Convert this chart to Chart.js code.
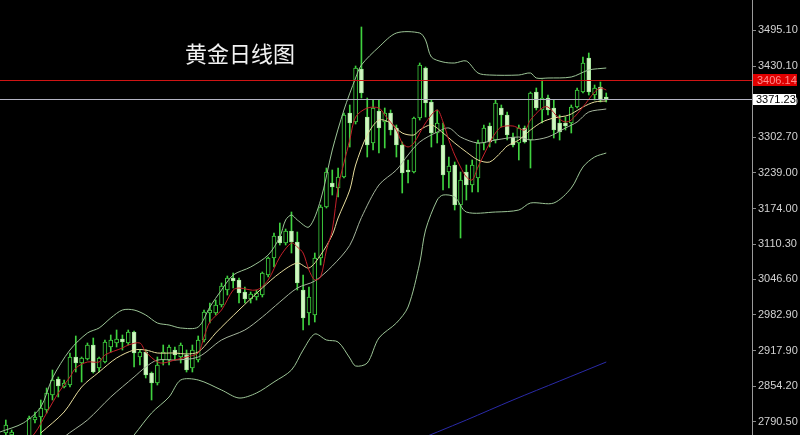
<!DOCTYPE html>
<html>
<head>
<meta charset="utf-8">
<script src="https://cdn.jsdelivr.net/npm/chart.js@4.4.1/dist/chart.umd.min.js"></script>
<style>
html,body{margin:0;padding:0;background:#000;}
#wrap{position:relative;width:800px;height:435px;}
#title{position:absolute;left:185px;top:39px;font-family:"Noto Sans CJK SC";font-size:22px;line-height:26px;color:#f2f2f2;}
</style>
</head>
<body>
<div id="wrap">
<canvas id="mycanvas" width="800" height="435"></canvas>
<div id="title">黄金日线图</div>
</div>
<script>
// daily candles, oldest first
var opens = [2770.2,2766.6,2748.6,2739.6,2757.6,2793.6,2799.0,2811.6,2838.6,2867.4,
2853.0,2856.6,2907.0,2896.2,2903.4,2928.6,2887.2,2898.0,2925.0,2932.2,
2939.4,2932.2,2952.0,2907.0,2916.0,2878.2,2860.2,2901.6,2901.6,2919.6,
2907.0,2910.6,2887.2,2901.6,2937.6,2986.2,2986.2,3000.6,3027.6,3049.2,
3045.6,3024.0,3011.4,3015.0,3018.6,3054.6,3085.2,3124.8,3112.2,3133.8,
3114.0,3027.6,2986.2,2982.6,3085.2,3177.0,3220.2,3211.2,3231.0,3346.2,
3330.0,3425.4,3339.0,3292.2,3349.8,3330.0,3346.2,3319.2,3288.6,3243.6,
3240.0,3337.2,3427.2,3366.0,3310.2,3288.6,3240.0,3252.6,3180.6,3240.0,
3216.6,3229.2,3292.2,3322.8,3297.6,3355.2,3342.6,3303.0,3292.2,3319.2,
3297.6,3384.0,3351.6,3373.2,3355.2,3328.2,3328.2,3328.2,3357.0,3384.0,
3445.2,3378.6,3393.0,3375.0];
var highs = [2793.6,2775.6,2761.2,2763.0,2800.8,2808.0,2829.6,2851.2,2883.6,2871.0,
2865.6,2914.2,2944.8,2907.0,2932.2,2941.2,2907.0,2937.6,2946.6,2955.6,
2946.6,2955.6,2953.8,2919.6,2919.6,2880.0,2907.0,2928.6,2928.6,2925.0,
2932.2,2919.6,2928.6,2944.8,2991.6,3004.2,3009.6,3040.2,3052.8,3058.2,
3049.2,3033.0,3024.0,3027.6,3060.0,3087.0,3130.2,3148.2,3137.4,3168.0,
3132.0,3054.6,3033.0,3094.2,3180.6,3247.2,3243.6,3247.2,3346.2,3360.6,
3430.8,3501.0,3373.2,3369.6,3369.6,3355.2,3351.6,3324.6,3294.0,3261.6,
3339.0,3436.2,3429.0,3369.6,3351.6,3328.2,3267.0,3258.0,3240.0,3252.6,
3261.6,3297.6,3324.6,3328.2,3369.6,3360.6,3348.0,3310.2,3324.6,3322.8,
3384.0,3391.2,3405.6,3378.6,3369.6,3342.6,3339.0,3360.6,3391.2,3447.0,
3454.2,3396.6,3402.0,3382.2];
var lows = [2757.6,2748.6,2736.0,2730.6,2754.0,2788.2,2766.6,2806.2,2829.6,2835.0,
2851.2,2853.0,2880.0,2862.0,2901.6,2878.2,2880.0,2896.2,2916.0,2925.0,
2919.6,2928.6,2889.0,2892.6,2869.2,2829.6,2856.6,2892.6,2892.6,2901.6,
2896.2,2880.0,2880.0,2898.0,2934.0,2968.2,2982.6,2997.0,3018.6,3031.2,
3004.2,3004.2,3004.2,3009.6,3015.0,3051.0,3069.0,3108.6,3108.6,3094.2,
3027.6,2955.6,2964.6,2970.0,3072.6,3175.2,3198.6,3195.0,3229.2,3285.0,
3326.4,3373.2,3267.0,3279.6,3274.2,3283.2,3306.6,3267.0,3202.2,3220.2,
3238.2,3333.6,3339.0,3285.0,3292.2,3207.6,3211.2,3171.6,3121.2,3189.6,
3204.0,3204.0,3279.6,3285.0,3292.2,3321.0,3297.6,3285.0,3261.6,3292.2,
3247.2,3351.6,3328.2,3342.6,3301.2,3297.6,3315.6,3310.2,3355.2,3382.2,
3378.6,3369.6,3366.0,3366.0];
var closes = [2784.6,2772.0,2757.6,2757.6,2797.2,2799.0,2815.2,2842.2,2865.6,2854.8,
2860.2,2907.0,2896.2,2905.2,2928.6,2880.0,2905.2,2934.0,2937.6,2939.4,
2934.0,2952.0,2914.2,2916.0,2874.6,2860.2,2892.6,2916.0,2925.0,2910.6,
2928.6,2883.6,2919.6,2937.6,2988.0,2991.6,3000.6,3034.8,3049.2,3043.8,
3022.2,3011.4,3020.4,3022.2,3058.2,3085.2,3124.8,3112.2,3133.8,3114.0,
3040.2,2977.2,3015.0,3085.2,3177.0,3240.0,3213.0,3231.0,3342.6,3328.2,
3427.2,3382.2,3288.6,3355.2,3319.2,3346.2,3315.6,3288.6,3238.2,3240.0,
3337.2,3432.6,3364.2,3310.2,3328.2,3234.6,3250.8,3180.6,3225.6,3216.6,
3252.6,3292.2,3319.2,3294.0,3364.2,3342.6,3306.6,3288.6,3319.2,3294.0,
3382.2,3355.2,3373.2,3351.6,3315.6,3312.0,3322.8,3357.0,3387.6,3436.2,
3384.0,3391.2,3369.6,3371.2];

// indicator lines: [bar slot, price]
var maFast = [[3,2735.0],[6,2770.2],[8,2806.2],[10,2842.2],[12,2871.0],[13,2887.2],[15,2898.0],[17,2898.0],[18,2910.6],[21,2923.2],[22,2928.6],[24,2932.2],[25,2916.0],[27,2898.0],[28,2896.2],[30,2901.6],[32,2907.0],[34,2914.2],[35,2943.0],[36,2970.0],[38,2991.6],[40,3027.6],[41,3031.2],[44,3027.6],[46,3045.6],[48,3087.0],[50,3112.2],[51,3105.0],[52,3094.2],[53,3063.6],[54,3045.6],[55,3051.0],[56,3099.6],[57,3135.6],[58,3213.0],[59,3256.2],[60,3297.6],[61,3339.0],[63,3355.2],[65,3355.2],[66,3342.6],[68,3315.6],[69,3292.2],[70,3285.0],[71,3292.2],[73,3328.2],[75,3351.6],[76,3330.0],[77,3297.6],[78,3270.6],[79,3249.0],[80,3231.0],[81,3225.6],[82,3249.0],[84,3292.2],[85,3310.2],[86,3321.0],[88,3322.8],[90,3315.6],[91,3333.6],[93,3355.2],[94,3357.0],[96,3335.4],[97,3330.0],[98,3333.6],[100,3357.0],[102,3384.0],[103,3391.2],[104,3387.6]];
var maSlow = [[7,2770.2],[11,2808.0],[14,2853.0],[17,2880.0],[20,2905.2],[23,2919.6],[25,2919.6],[27,2914.2],[30,2914.2],[32,2912.4],[34,2916.0],[36,2937.6],[37,2950.2],[41,2991.6],[45,3031.2],[48,3058.2],[51,3076.2],[53,3067.2],[55,3090.6],[57,3126.6],[58,3157.2],[60,3207.6],[61,3252.6],[63,3306.6],[65,3333.6],[67,3328.2],[69,3310.2],[71,3306.6],[72,3315.6],[74,3324.6],[76,3310.2],[78,3292.2],[80,3276.0],[82,3261.6],[84,3258.0],[86,3276.0],[87,3286.8],[89,3297.6],[91,3315.6],[93,3330.0],[95,3337.2],[97,3340.8],[98,3344.4],[100,3357.0],[102,3366.0],[104,3367.8]];
var upperBand = [[0,2772.0],[4,2788.2],[7,2817.0],[9,2869.2],[12,2919.6],[15,2950.2],[17,2959.2],[19,2977.2],[21,2991.6],[23,2991.6],[25,2982.6],[27,2968.2],[29,2964.6],[31,2959.2],[34,2961.0],[36,2997.0],[38,3027.6],[40,3054.6],[43,3069.0],[46,3090.6],[48,3123.0],[49,3153.6],[50,3162.6],[51,3153.6],[53,3141.0],[55,3189.6],[57,3279.6],[59,3351.6],[61,3409.2],[62,3432.6],[65,3465.0],[68,3490.2],[72,3490.2],[73,3477.6],[74,3447.0],[76,3438.0],[78,3436.2],[80,3439.8],[82,3418.2],[84,3414.6],[89,3414.6],[91,3418.2],[92,3409.2],[94,3409.2],[98,3411.0],[101,3423.6],[104,3427.2]];
var midBand = [[8,2730.6],[11,2763.0],[15,2793.6],[19,2835.0],[23,2871.0],[25,2889.0],[27,2901.6],[30,2901.6],[34,2907.0],[38,2937.6],[42,2955.6],[45,2979.0],[48,3006.0],[51,3031.2],[54,3043.8],[57,3070.8],[60,3108.0],[62,3158.0],[65,3216.6],[68,3243.6],[70,3270.6],[72,3294.0],[75,3312.0],[77,3319.2],[79,3303.0],[82,3292.2],[85,3297.6],[89,3303.0],[91,3297.6],[94,3303.0],[97,3319.2],[99,3330.0],[101,3348.0],[104,3353.4]];
var lowerBand = [[20,2730.6],[23,2766.6],[26,2806.2],[29,2835.0],[31,2865.6],[34,2865.6],[38,2847.6],[41,2833.2],[44,2842.2],[47,2862.0],[50,2883.6],[52,2919.6],[54,2948.4],[56,2937.6],[58,2934.0],[60,2905.2],[61,2890.8],[63,2896.2],[65,2941.2],[68,2968.2],[70,2997.0],[72,3076.2],[73,3135.6],[75,3189.6],[76,3198.6],[78,3195.0],[80,3168.0],[85,3168.0],[89,3171.6],[91,3184.2],[95,3184.2],[98,3211.2],[100,3249.0],[102,3267.0],[104,3274.2]];
var longMa = [[70,2750.4],[80,2793.6],[88,2829.6],[96,2863.8],[104,2898.0]];

var tickValues = [3495.10,3430.10,3366.40,3302.70,3239.00,3174.00,3110.30,3046.60,2982.90,2917.90,2854.20,2790.50];
var resistance = 3406.14;
var lastPrice = 3371.23;

var slots = 130;
var green = '#3fd23f';
var labels = [];
for (var i = 0; i < slots; i++) labels.push(String(i));

function spread(points) {
	var arr = new Array(slots).fill(null);
	points.forEach(function(p){ arr[p[0]] = p[1]; });
	return arr;
}

var wickData = new Array(slots).fill(null);
var bodyData = new Array(slots).fill(null);
var bodyFill = new Array(slots).fill('#000');
var bodyEdge = new Array(slots).fill(green);
for (var k = 0; k < opens.length; k++) {
	wickData[k+1] = [lows[k], highs[k]];
	bodyData[k+1] = [opens[k], closes[k]];
	if (closes[k] < opens[k]) {
		bodyFill[k+1] = '#d2f6c2';
		bodyEdge[k+1] = '#a6e89e';
	}
}

function lineSet(label, pts, color) {
	return {
		type: 'line', label: label, data: spread(pts),
		borderColor: color, borderWidth: 1, pointRadius: 0,
		spanGaps: true, tension: 0.3, order: 1
	};
}

var priceLines = {
	id: 'priceLines',
	afterDatasetsDraw: function(chart) {
		var c = chart.ctx, area = chart.chartArea, ys = chart.scales.y;
		c.save();
		c.font = '11px "Liberation Sans"';
		c.textBaseline = 'middle';
		var py = Math.round(ys.getPixelForValue(resistance)) + 0.5;
		c.strokeStyle = '#d01414';
		c.lineWidth = 1;
		c.beginPath(); c.moveTo(area.left, py); c.lineTo(area.right, py); c.stroke();
		c.fillStyle = '#e00000';
		c.fillRect(area.right + 1, py - 6.5, 44, 12);
		c.fillStyle = '#ff8c8c';
		c.fillText(resistance.toFixed(2), area.right + 5, py);
		py = Math.round(ys.getPixelForValue(lastPrice)) + 0.5;
		c.strokeStyle = '#b4b4c4';
		c.beginPath(); c.moveTo(area.left, py); c.lineTo(area.right, py); c.stroke();
		c.fillStyle = '#ffffff';
		c.fillRect(area.right + 1, py - 5.5, 43, 11);
		c.fillStyle = '#000000';
		c.fillText(lastPrice.toFixed(2), area.right + 4, py);
		c.restore();
	}
};

var ctx = document.getElementById('mycanvas');
var chart = new Chart(ctx, {
	type: 'bar',
	data: {
		labels: labels,
		datasets: [
			lineSet('MA5', maFast, '#c4202a'),
			lineSet('MA10', maSlow, '#e6dc9c'),
			lineSet('BB upper', upperBand, '#9cc496'),
			lineSet('BB mid', midBand, '#a4b49c'),
			lineSet('BB lower', lowerBand, '#9cc496'),
			lineSet('MA long', longMa, '#2a2aa8'),
			{
				label: 'body', data: bodyData,
				backgroundColor: bodyFill, borderColor: bodyEdge,
				borderWidth: 1, borderSkipped: false,
				barThickness: 4, grouped: false, order: 4
			},
			{
				label: 'wick', data: wickData,
				backgroundColor: green, borderWidth: 0,
				barThickness: 1, grouped: false, order: 5
			}
		]
	},
	options: {
		animation: false,
		responsive: false,
		devicePixelRatio: 1,
		layout: { padding: 0 },
		plugins: { legend: { display: false }, tooltip: { enabled: false } },
		scales: {
			x: { display: false, offset: false, grid: { display: false } },
			y: {
				position: 'right',
				min: 2766.6,
				max: 3549.6,
				afterBuildTicks: function(scale) {
					scale.ticks = tickValues.map(function(v){ return { value: v }; });
				},
				afterFit: function(scale) {
					scale.width = 48;
					scale.paddingTop = 0;
					scale.paddingBottom = 0;
				},
				ticks: {
					color: '#d2d2d2',
					padding: 2,
					font: { family: 'Liberation Sans', size: 11 },
					callback: function(v){ return Number(v).toFixed(2); }
				},
				grid: { drawOnChartArea: false, color: '#8a8a8a', tickLength: 4 },
				border: { color: '#9a9a9a' }
			}
		}
	},
	plugins: [priceLines]
});
</script>
</body>
</html>
